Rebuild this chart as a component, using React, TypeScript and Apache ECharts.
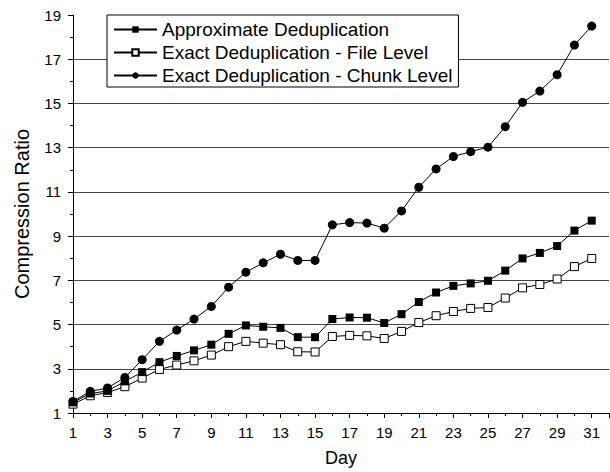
import React, { useEffect, useRef } from "react";
import * as echarts from "echarts";

const days = Array.from({ length: 31 }, (_, i) => i + 1);

const approximate = [
  1.48, 1.88, 2.0, 2.43, 2.85, 3.3, 3.58, 3.83, 4.09, 4.58, 4.96, 4.9, 4.85, 4.43, 4.43,
  5.25, 5.32, 5.31, 5.07, 5.47, 6.02, 6.45, 6.75, 6.86, 6.98, 7.44, 7.99, 8.24, 8.55, 9.25, 9.7,
];

const fileLevel = [
  1.4, 1.78, 1.93, 2.19, 2.58, 2.97, 3.17, 3.36, 3.62, 4.0, 4.24, 4.16, 4.09, 3.77, 3.76,
  4.46, 4.51, 4.49, 4.37, 4.69, 5.09, 5.4, 5.59, 5.73, 5.77, 6.2, 6.66, 6.81, 7.06, 7.62, 7.99,
];

const chunkLevel = [
  1.52, 1.98, 2.13, 2.61, 3.41, 4.24, 4.75, 5.25, 5.82, 6.69, 7.37, 7.79, 8.18, 7.9, 7.9,
  9.51, 9.61, 9.59, 9.36, 10.14, 11.21, 12.04, 12.6, 12.82, 13.02, 13.95, 15.05, 15.56, 16.3, 17.64, 18.5,
];

const seriesNames = [
  "Approximate Deduplication",
  "Exact Deduplication - File Level",
  "Exact Deduplication - Chunk Level",
];

const FONT = "'Liberation Sans', Arial, sans-serif";

export default function App() {
  const ref = useRef<HTMLDivElement>(null);

  useEffect(() => {
    if (!ref.current) return;
    const chart = echarts.init(ref.current, undefined, { renderer: "svg" });
    const pair = (vals: number[]) => days.map((d, i) => [d, vals[i]]);
    // last split line (the top edge at 19) is left out
    const gridColors = Array.from({ length: 10 }, (_, i) => (i === 9 ? "rgba(0,0,0,0)" : "#444"));

    chart.setOption({
      animation: false,
      backgroundColor: "#fff",
      textStyle: { fontFamily: FONT },
      grid: { left: 73, right: 1, top: 15, bottom: 59, outerBoundsMode: "none", containLabel: false },
      legend: {
        orient: "vertical",
        left: 107,
        top: 15,
        padding: [5, 6, 2, 6],
        itemGap: 4,
        itemWidth: 43,
        itemHeight: 8,
        borderColor: "#000",
        borderWidth: 1,
        backgroundColor: "#fff",
        textStyle: { fontSize: 19, color: "#000", fontFamily: FONT },
        data: seriesNames,
      },
      xAxis: {
        type: "value",
        min: 1,
        max: 32,
        interval: 2,
        name: "Day",
        nameLocation: "middle",
        nameGap: 36,
        nameMoveOverlap: false,
        nameTextStyle: { fontSize: 18, color: "#000", fontFamily: FONT },
        axisLine: { show: true, onZero: false, lineStyle: { color: "#000", width: 1 } },
        axisTick: { show: true, inside: false, length: 5, lineStyle: { color: "#000" } },
        minorTick: { show: true, splitNumber: 2, length: 3, lineStyle: { color: "#000" } },
        axisLabel: {
          fontSize: 15,
          color: "#000",
          margin: 12,
          fontFamily: FONT,
          formatter: (v: number) => (v > 31 ? "" : String(v)),
        },
        splitLine: { show: false },
      },
      yAxis: {
        type: "value",
        min: 1,
        max: 19,
        interval: 2,
        name: "Compression Ratio",
        nameLocation: "middle",
        nameGap: 41,
        nameMoveOverlap: false,
        nameTextStyle: { fontSize: 20, color: "#000", fontFamily: FONT },
        axisLine: { show: true, onZero: false, lineStyle: { color: "#000", width: 1 } },
        axisTick: { show: true, inside: false, length: 5, lineStyle: { color: "#000" } },
        minorTick: { show: true, splitNumber: 2, length: 3, lineStyle: { color: "#000" } },
        axisLabel: { fontSize: 15, color: "#000", margin: 12, fontFamily: FONT },
        splitLine: { show: true, lineStyle: { color: gridColors, width: 1 } },
      },
      series: [
        {
          name: seriesNames[0],
          type: "line",
          data: pair(approximate),
          symbol: "rect",
          symbolSize: 8,
          itemStyle: { color: "#000" },
          lineStyle: { color: "#000", width: 1 },
          z: 3,
        },
        {
          name: seriesNames[1],
          type: "line",
          data: pair(fileLevel),
          symbol: "rect",
          symbolSize: 8,
          itemStyle: { color: "#fff", borderColor: "#000", borderWidth: 1 },
          lineStyle: { color: "#000", width: 1 },
          z: 2,
        },
        {
          name: seriesNames[2],
          type: "line",
          data: pair(chunkLevel),
          symbol: "circle",
          symbolSize: 9,
          itemStyle: { color: "#000" },
          lineStyle: { color: "#000", width: 1 },
          z: 4,
        },
      ],
    });

    return () => chart.dispose();
  }, []);

  return (
    <div
      ref={ref}
      style={{ position: "fixed", left: 0, top: 0, width: 610, height: 472 }}
    />
  );
}
